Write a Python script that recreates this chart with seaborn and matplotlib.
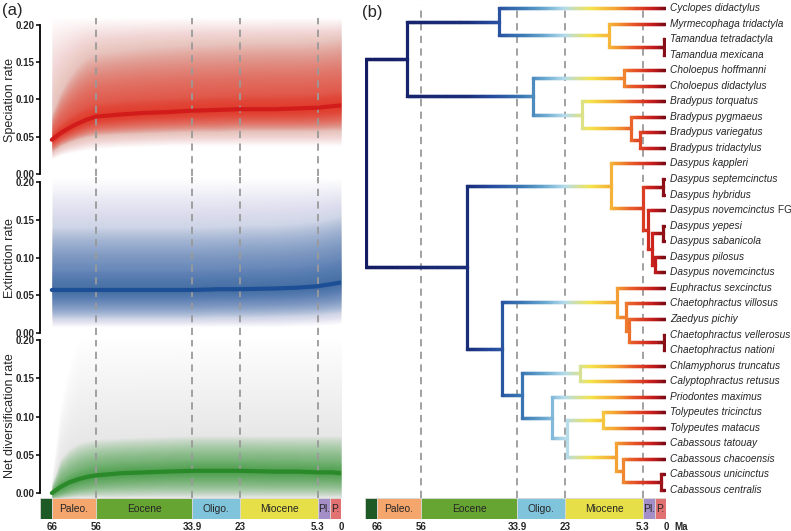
import numpy as np
import matplotlib
matplotlib.use("Agg")
import matplotlib.pyplot as plt
import seaborn as sns
from matplotlib.collections import LineCollection
from matplotlib.colors import LinearSegmentedColormap
from matplotlib.patches import Rectangle

W, H = 791, 531
XMAX = 68.7

# ---- (a) rates through time ----
rate_ages = [66, 64, 62, 60, 58, 56, 50, 45, 40, 33.9, 28, 23, 15, 10, 5.3, 2, 0]

spec_mean = [0.046, 0.055, 0.062, 0.068, 0.073, 0.077, 0.080, 0.082, 0.083, 0.085, 0.086, 0.087, 0.087, 0.088, 0.089, 0.091, 0.092]
spec_lo99 = [0.020, 0.025, 0.028, 0.030, 0.032, 0.034, 0.036, 0.037, 0.038, 0.038, 0.038, 0.038, 0.038, 0.038, 0.038, 0.038, 0.038]
spec_hi99 = [0.210, 0.210, 0.210, 0.210, 0.210, 0.210, 0.210, 0.210, 0.210, 0.210, 0.210, 0.210, 0.210, 0.210, 0.210, 0.210, 0.210]
spec_lo90 = [0.030, 0.038, 0.043, 0.047, 0.050, 0.052, 0.054, 0.055, 0.056, 0.057, 0.057, 0.058, 0.058, 0.058, 0.058, 0.059, 0.059]
spec_hi90 = [0.080, 0.110, 0.130, 0.145, 0.155, 0.160, 0.165, 0.168, 0.170, 0.172, 0.173, 0.174, 0.175, 0.175, 0.176, 0.178, 0.180]
spec_lo50 = [0.040, 0.048, 0.054, 0.059, 0.063, 0.066, 0.069, 0.071, 0.072, 0.073, 0.074, 0.075, 0.075, 0.075, 0.076, 0.077, 0.078]
spec_hi50 = [0.055, 0.068, 0.078, 0.086, 0.092, 0.096, 0.100, 0.102, 0.103, 0.105, 0.106, 0.107, 0.108, 0.108, 0.109, 0.111, 0.112]

ext_mean = [0.057, 0.057, 0.057, 0.057, 0.057, 0.057, 0.057, 0.057, 0.057, 0.057, 0.058, 0.058, 0.059, 0.060, 0.062, 0.065, 0.067]
ext_lo99 = [0.008, 0.008, 0.008, 0.008, 0.008, 0.008, 0.008, 0.008, 0.008, 0.008, 0.008, 0.008, 0.008, 0.009, 0.010, 0.011, 0.012]
ext_hi99 = [0.205, 0.205, 0.205, 0.205, 0.205, 0.205, 0.205, 0.205, 0.205, 0.205, 0.205, 0.205, 0.205, 0.205, 0.205, 0.205, 0.205]
ext_lo90 = [0.020, 0.020, 0.020, 0.020, 0.020, 0.020, 0.020, 0.020, 0.020, 0.020, 0.021, 0.021, 0.022, 0.023, 0.024, 0.026, 0.027]
ext_hi90 = [0.140, 0.140, 0.140, 0.140, 0.140, 0.140, 0.140, 0.140, 0.140, 0.140, 0.141, 0.142, 0.143, 0.145, 0.148, 0.152, 0.155]
ext_lo50 = [0.042, 0.042, 0.042, 0.042, 0.042, 0.042, 0.042, 0.042, 0.042, 0.042, 0.043, 0.043, 0.044, 0.045, 0.047, 0.049, 0.051]
ext_hi50 = [0.085, 0.085, 0.085, 0.085, 0.085, 0.085, 0.085, 0.085, 0.085, 0.085, 0.086, 0.087, 0.088, 0.090, 0.093, 0.097, 0.100]

net_mean = [0.000, 0.008, 0.014, 0.018, 0.021, 0.023, 0.026, 0.027, 0.028, 0.029, 0.029, 0.029, 0.028, 0.028, 0.027, 0.027, 0.026]
net_lo99 = [-0.010, -0.010, -0.010, -0.010, -0.010, -0.010, -0.010, -0.010, -0.010, -0.010, -0.010, -0.010, -0.010, -0.010, -0.010, -0.010, -0.010]
net_hi99 = [0.020, 0.120, 0.170, 0.200, 0.205, 0.205, 0.205, 0.205, 0.205, 0.205, 0.205, 0.205, 0.205, 0.205, 0.205, 0.205, 0.205]
net_lo90 = [-0.008, -0.007, -0.006, -0.005, -0.005, -0.005, -0.005, -0.005, -0.005, -0.005, -0.005, -0.005, -0.005, -0.005, -0.005, -0.005, -0.005]
net_hi90 = [0.010, 0.045, 0.058, 0.065, 0.068, 0.070, 0.072, 0.073, 0.074, 0.075, 0.075, 0.075, 0.075, 0.075, 0.075, 0.075, 0.075]
net_lo50 = [-0.004, 0.000, 0.004, 0.007, 0.009, 0.011, 0.013, 0.014, 0.015, 0.015, 0.015, 0.015, 0.014, 0.014, 0.014, 0.014, 0.013]
net_hi50 = [0.004, 0.018, 0.026, 0.032, 0.036, 0.039, 0.042, 0.043, 0.044, 0.045, 0.045, 0.045, 0.044, 0.044, 0.043, 0.043, 0.042]

# ---- geological timescale ----
epoch_old = [66, 56, 33.9, 23, 5.3, 2.58]
epoch_young = [56, 33.9, 23, 5.3, 2.58, 0]
epoch_names = ["Paleo.", "Eocene", "Oligo.", "Miocene", "Pl.", "P."]
epoch_colors = ["#f4a66c", "#67a532", "#80c4dc", "#e6df48", "#a48ec8", "#e27272"]
cretaceous_color = "#1d5a26"
time_ticks = [66, 56, 33.9, 23, 5.3, 0]
time_labels = ["66", "56", "33.9", "23", "5.3", "0"]
dash_ages = [56, 33.9, 23, 5.3]

# ---- (b) phylogeny: (node age, child, child); ints are tip indices ----
tips = ["Cyclopes didactylus", "Myrmecophaga tridactyla", "Tamandua tetradactyla",
        "Tamandua mexicana", "Choloepus hoffmanni", "Choloepus didactylus",
        "Bradypus torquatus", "Bradypus pygmaeus", "Bradypus variegatus",
        "Bradypus tridactylus", "Dasypus kappleri", "Dasypus septemcinctus",
        "Dasypus hybridus", "Dasypus novemcinctus FG", "Dasypus yepesi",
        "Dasypus sabanicola", "Dasypus pilosus", "Dasypus novemcinctus",
        "Euphractus sexcinctus", "Chaetophractus villosus", "Zaedyus pichiy",
        "Chaetophractus vellerosus", "Chaetophractus nationi", "Chlamyphorus truncatus",
        "Calyptophractus retusus", "Priodontes maximus", "Tolypeutes tricinctus",
        "Tolypeutes matacus", "Cabassous tatouay", "Cabassous chacoensis",
        "Cabassous unicinctus", "Cabassous centralis"]

tree = (68.5,
        (59.1,
         (38.1, 0, (13.1, 1, (0.5, 2, 3))),
         (30.4, (9.6, 4, 5), (19.2, 6, (8.0, 7, (5.9, 8, 9))))),
        (45.5,
         (12.6, 10, (5.2, (0.7, 11, 12), (4.0, 13, (3.3, (0.7, 14, 15), (2.5, 16, 17))))),
         (37.5,
          (11.2, 18, (9.2, 19, (8.4, 20, (0.5, 21, 22)))),
          (32.9, (19.6, 23, 24),
           (26.0, 25, (22.7, (14.3, 26, 27), (11.3, 28, (9.8, 29, (1.2, 30, 31)))))))))

# branch rate colour along time
col_ages = [0, 2, 6, 11, 17, 24, 30, 38, 45, 69]
col_vals = [1.0, 0.9, 0.78, 0.66, 0.55, 0.42, 0.3, 0.15, 0.05, 0.0]
rate_cmap = LinearSegmentedColormap.from_list("rate", [
    (0.00, "#141c64"), (0.12, "#24489a"), (0.25, "#3a78b4"), (0.35, "#6aa8d0"),
    (0.44, "#b4dcec"), (0.55, "#f4e44c"), (0.65, "#f5a634"), (0.75, "#e8582a"),
    (0.87, "#c81e1e"), (1.00, "#780a14")])


def tcol(age):
    return rate_cmap(np.interp(age, col_ages, col_vals))


sns.set_style("white")
plt.rcParams["font.family"] = ["Liberation Sans", "DejaVu Sans"]

fig = plt.figure(figsize=(W / 100, H / 100), dpi=100)


def px_axes(x0, y0, x1, y1):
    return fig.add_axes([x0 / W, 1 - y1 / H, (x1 - x0) / W, (y1 - y0) / H])


def draw_rate(ax, mean, bands, color, lcolor, opac):
    ages = np.array(rate_ages)
    bands = [(np.array(lo), np.array(hi)) for lo, hi in bands]
    bands.append((np.array(mean), np.array(mean)))
    n = 24
    for (lo_a, hi_a), (lo_b, hi_b), total in zip(bands[:-1], bands[1:], opac):
        a = 1 - (1 - total) ** (1 / n)
        for t in np.linspace(0, 1, n, endpoint=False):
            ax.fill_between(ages, lo_a + t * (lo_b - lo_a), hi_a + t * (hi_b - hi_a),
                            color=color, alpha=a, lw=0)
    for d in dash_ages:
        ax.axvline(d, color="#9a9a9a", lw=1.3, dashes=(4, 3), zorder=3)
    sns.lineplot(x=rate_ages, y=mean, ax=ax, color=lcolor, lw=3, zorder=4)


panels = [
    (spec_mean, [(spec_lo99, spec_hi99), (spec_lo90, spec_hi90), (spec_lo50, spec_hi50)],
     "#e0301e", "#d21c1c", (0.28, 0.65, 0.6), "Speciation rate", 18, 176, (-0.0027, 0.2094), 100),
    (ext_mean, [(ext_lo99, ext_hi99), (ext_lo90, ext_hi90), (ext_lo50, ext_hi50)],
     "#2f5fa5", "#1c4f96", (0.14, 0.58, 0.5), "Extinction rate", 177, 335, (-0.0026, 0.2066), 258),
    (net_mean, [(net_lo99, net_hi99), (net_lo90, net_hi90), (net_lo50, net_hi50)],
     "#2e9a2e", "#2a8a2a", (0.08, 0.55, 0.5), "Net diversification rate", 340, 498, (-0.0065, 0.2), 416),
]

for mean, bands, color, lcolor, opac, label, top, bot, ylim, ylab in panels:
    ax = px_axes(40, top, 341, bot)
    draw_rate(ax, mean, bands, color, lcolor, opac)
    ax.set_xlim(XMAX, 0)
    ax.set_ylim(*ylim)
    ax.set_xticks([])
    ax.set_yticks([0, 0.05, 0.10, 0.15, 0.20],
                  labels=["0.00", "0.05", "0.10", "0.15", "0.20"],
                  fontsize=7, fontweight="bold")
    ax.tick_params(axis="y", direction="out", length=3, width=1.3, pad=1, left=True)
    sns.despine(ax=ax, top=True, right=True, bottom=True)
    ax.spines["left"].set_bounds(0, 0.2)
    ax.spines["left"].set_linewidth(1.3)
    ax.spines["left"].set_color("black")
    ax.set_ylabel("")
    ax.patch.set_alpha(0)
    fig.text(10 / W, 1 - ylab / H, label, rotation=90, ha="center", va="center", fontsize=9)


def geobar(x0, x1, unit=False):
    ax = px_axes(x0, 498, x1, 519)
    ax.set_xlim(XMAX, 0)
    ax.set_ylim(0, 1)
    ax.axis("off")
    ax.add_patch(Rectangle((66, 0), XMAX - 66, 1, fc=cretaceous_color, ec="#d8d8d8", lw=0.6))
    for old, young, name, c in zip(epoch_old, epoch_young, epoch_names, epoch_colors):
        ax.add_patch(Rectangle((young, 0), old - young, 1, fc=c, ec="#d8d8d8", lw=0.6))
        ax.text((old + young) / 2, 0.5, name, ha="center", va="center", fontsize=7.4)
    for t, lab in zip(time_ticks, time_labels):
        ax.text(t, -0.38, lab, ha="center", va="center", fontsize=7, fontweight="bold", clip_on=False)
    if unit:
        ax.text(-1.8, -0.38, "Ma", ha="left", va="center", fontsize=7, fontweight="bold", clip_on=False)


geobar(40, 341)
geobar(365, 666, unit=True)

# ---- tree ----
tax = px_axes(365, 0, 666, 498)
tax.set_xlim(XMAX, 0)
tax.set_ylim(31 + 8 / 15.55, -8 / 15.55)
tax.axis("off")
for d in dash_ages:
    tax.axvline(d, ymin=0, ymax=493 / 498, color="#9a9a9a", lw=1.3, dashes=(4, 3), zorder=1)

LW = 2.3


def branch(y, a0, a1):
    xs = np.linspace(a0, a1, max(int((a0 - a1) * 3), 2))
    segs = [[(xs[i], y), (xs[i + 1], y)] for i in range(len(xs) - 1)]
    cols = [tcol((xs[i] + xs[i + 1]) / 2) for i in range(len(xs) - 1)]
    tax.add_collection(LineCollection(segs, colors=cols, linewidths=LW, capstyle="projecting", zorder=2))


def draw(node, parent_age):
    if isinstance(node, int):
        y, age = node, 0.0
    else:
        age, a, b = node
        ya = draw(a, age)
        yb = draw(b, age)
        tax.plot([age, age], [ya, yb], color=tcol(age), lw=LW, solid_capstyle="projecting", zorder=2)
        y = (ya + yb) / 2
    if parent_age is not None:
        branch(y, parent_age, age)
    return y


draw(tree, None)

for i, name in enumerate(tips):
    if name.endswith(" FG"):
        t = tax.text(-0.9, i, name[:-3], style="italic", fontsize=7.3, va="center", ha="left", clip_on=False)
        tax.annotate(" FG", xy=(1, 0.5), xycoords=t, va="center", ha="left", fontsize=7.3)
    else:
        tax.text(-0.9, i, name, style="italic", fontsize=7.3, va="center", ha="left", clip_on=False)

fig.text(2 / W, 1 - 11 / H, "(a)", fontsize=12, va="center", ha="left")
fig.text(362 / W, 1 - 13 / H, "(b)", fontsize=12, va="center", ha="left")

fig.savefig("out.png", dpi=100, facecolor="white")
